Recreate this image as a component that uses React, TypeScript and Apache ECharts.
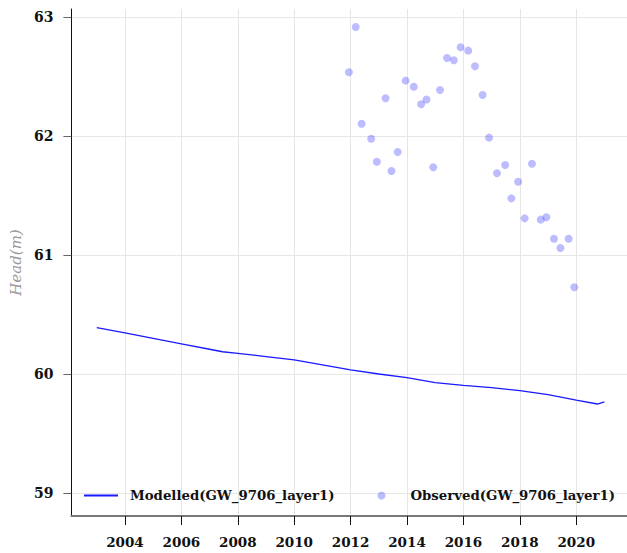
import React, { useEffect, useRef } from 'react';
import * as echarts from 'echarts';

const modelYears = [2003.0, 2004.0, 2005.0, 2006.0, 2007.0, 2007.46, 2008.0, 2009.0, 2010.0, 2011.0, 2012.0, 2013.0, 2014.0, 2015.0, 2016.0, 2017.0, 2018.0, 2019.0, 2020.0, 2020.75, 2021.0];
const modelHeads = [60.39, 60.346, 60.3, 60.254, 60.208, 60.187, 60.174, 60.147, 60.118, 60.077, 60.034, 60.0, 59.969, 59.928, 59.905, 59.885, 59.86, 59.826, 59.78, 59.748, 59.765];

const obsYears = [2011.94, 2012.18, 2012.39, 2012.73, 2012.93, 2013.24, 2013.45, 2013.67, 2013.95, 2014.24, 2014.5, 2014.69, 2014.93, 2015.17, 2015.42, 2015.66, 2015.9, 2016.17, 2016.41, 2016.68, 2016.91, 2017.19, 2017.48, 2017.7, 2017.94, 2018.17, 2018.43, 2018.74, 2018.94, 2019.21, 2019.44, 2019.73, 2019.93];
const obsHeads = [62.535, 62.916, 62.103, 61.977, 61.784, 62.317, 61.706, 61.866, 62.465, 62.414, 62.266, 62.307, 61.737, 62.387, 62.655, 62.636, 62.745, 62.717, 62.586, 62.345, 61.986, 61.687, 61.756, 61.476, 61.616, 61.308, 61.767, 61.297, 61.317, 61.137, 61.059, 61.137, 60.729];

const xTicks = [2004, 2006, 2008, 2010, 2012, 2014, 2016, 2018, 2020];
const yTicks = [59, 60, 61, 62, 63];

const FONT = 'DejaVu Serif';

export default function App() {
  const ref = useRef<HTMLDivElement>(null);
  useEffect(() => {
    document.body.style.margin = '0';
    const chart = echarts.init(ref.current!, null, { renderer: 'svg' });
    chart.setOption({
      animation: false,
      grid: { left: 70, top: 9, right: 0, bottom: 37, containLabel: false },
      legend: {
        left: 83,
        top: 489,
        padding: 0,
        itemWidth: 34,
        itemHeight: 8,
        itemGap: 43,
        textStyle: { fontFamily: FONT, fontWeight: 'bold', fontSize: 13.3, color: '#111', padding: [0, 0, 0, 7] },
        data: [
          { name: 'Modelled(GW_9706_layer1)', itemStyle: { opacity: 0 } },
          { name: 'Observed(GW_9706_layer1)' },
        ],
      },
      xAxis: {
        type: 'value',
        min: 2002.1,
        max: 2021.8,
        splitNumber: 10,
        minInterval: 2,
        maxInterval: 2,
        axisLine: { show: true, onZero: false, lineStyle: { color: '#777', width: 2 } },
        axisTick: { show: true, length: 9, lineStyle: { color: '#111' }, customValues: xTicks },
        axisLabel: {
          margin: 19,
          fontFamily: FONT,
          fontWeight: 'bold',
          fontSize: 13.5,
          color: '#111',
          customValues: xTicks,
          formatter: (v: number) => String(Math.round(v)),
        },
        splitLine: { show: true, lineStyle: { color: '#e6e6e6' } },
      },
      yAxis: {
        type: 'value',
        min: 58.807,
        max: 63.067,
        minInterval: 1,
        maxInterval: 1,
        name: 'Head(m)',
        nameLocation: 'middle',
        nameGap: 47,
        nameTextStyle: { fontFamily: FONT, fontStyle: 'italic', fontSize: 15, color: '#999' },
        axisLine: { show: true, onZero: false, lineStyle: { color: '#111', width: 1 } },
        axisTick: { show: true, length: 8, lineStyle: { color: '#666' }, customValues: yTicks },
        axisLabel: {
          margin: 18,
          fontFamily: FONT,
          fontWeight: 'bold',
          fontSize: 14,
          color: '#111',
          customValues: yTicks,
          formatter: (v: number) => String(Math.round(v)),
        },
        splitLine: { show: true, lineStyle: { color: '#e6e6e6' } },
      },
      series: [
        {
          name: 'Modelled(GW_9706_layer1)',
          type: 'line',
          symbol: 'none',
          data: modelYears.map((y, i) => [y, modelHeads[i]]),
          lineStyle: { color: '#1a1aff', width: 1.3 },
          itemStyle: { color: '#1a1aff' },
        },
        {
          name: 'Observed(GW_9706_layer1)',
          type: 'scatter',
          symbol: 'circle',
          symbolSize: 8,
          data: obsYears.map((y, i) => [y, obsHeads[i]]),
          itemStyle: { color: 'rgba(0,0,255,0.33)' },
        },
      ],
    });
    return () => chart.dispose();
  }, []);
  return <div ref={ref} style={{ width: 627, height: 553 }} />;
}
